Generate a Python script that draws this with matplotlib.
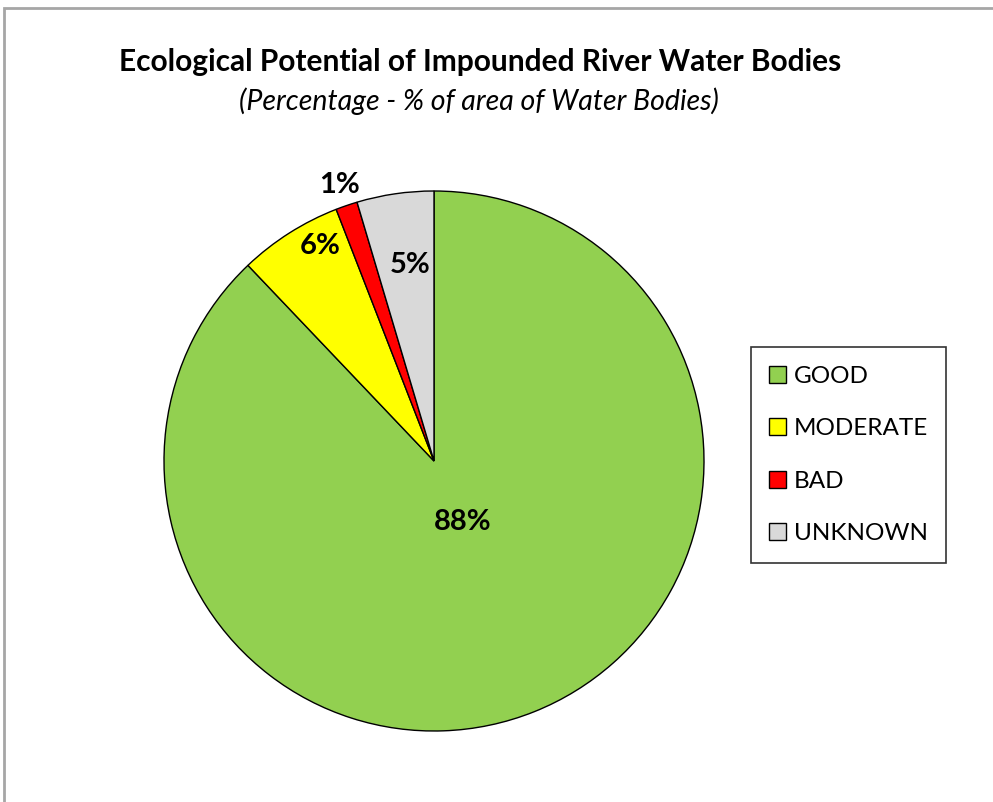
import numpy as np
import matplotlib
matplotlib.use("Agg")
import matplotlib.pyplot as plt
from matplotlib.patches import Patch, Rectangle

categories = ["GOOD", "MODERATE", "BAD", "UNKNOWN"]
values = [87.9, 6.2, 1.3, 4.6]
labels = ["88%", "6%", "1%", "5%"]
colors = ["#92D050", "#FFFF00", "#FF0000", "#D9D9D9"]
label_r = [0.25, 0.9, 1.08, 0.73]
label_shift = [3, -4.5, 0, -1.4]

plt.rcParams['font.family'] = ['Lato', 'DejaVu Sans']

fig = plt.figure(figsize=(9.93, 8.02), dpi=100)

# outer chart border (only top and left visible)
fig.add_artist(Rectangle((4 / 993, -0.1), 1.2, 1 - 8 / 802 + 0.1, transform=fig.transFigure,
                         facecolor='none', edgecolor='#A6A6A6', linewidth=2))

ax = fig.add_axes([(434 - 270) / 993, (802 - 731) / 802, 540 / 993, 540 / 802])
wedges, _ = ax.pie(values, colors=colors, startangle=90, counterclock=False, radius=1,
                   wedgeprops=dict(edgecolor='black', linewidth=1))
ax.set_xlim(-1, 1)
ax.set_ylim(-1, 1)
ax.set_aspect('auto')
ax.axis('off')

for w, lab, r, s in zip(wedges, labels, label_r, label_shift):
    mid = np.deg2rad((w.theta1 + w.theta2) / 2 + s)
    ax.text(r * np.cos(mid), r * np.sin(mid), lab, ha='center', va='center',
            fontsize=21, fontweight='bold', color='black', clip_on=False)

fig.text(480 / 993, 1 - 62 / 802, "Ecological Potential of Impounded River Water Bodies",
         ha='center', va='center', fontsize=21.5, fontweight='bold')
fig.text(479 / 993, 1 - 101 / 802, "(Percentage - % of area of Water Bodies)",
         ha='center', va='center', fontsize=20.5, fontstyle='italic')

handles = [Patch(facecolor=c, edgecolor='black', linewidth=1) for c in colors]
leg = fig.legend(handles, categories, loc='center left',
                 bbox_to_anchor=(751 / 993, 1 - 455 / 802), fontsize=17.5,
                 frameon=True, fancybox=False, edgecolor='black',
                 handlelength=0.7, handleheight=0.7, handletextpad=0.3,
                 labelspacing=1.3, borderpad=0.75, borderaxespad=0)
leg.get_frame().set_linewidth(1.2)

fig.savefig("out.png", dpi=100)
